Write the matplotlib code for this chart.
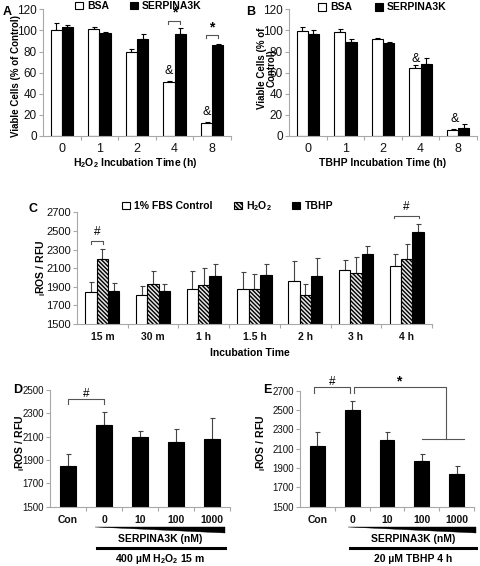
import matplotlib
matplotlib.use('Agg')
import matplotlib.pyplot as plt
import numpy as np
from matplotlib.patches import Patch, Polygon

plt.rcParams['font.family'] = ['Liberation Sans', 'DejaVu Sans']
plt.rcParams['mathtext.default'] = 'regular'
plt.rcParams['hatch.linewidth'] = 1.0

# ---------------- data ----------------
time_ab = ['0', '1', '2', '4', '8']
a_bsa = [100, 101.5, 79.5, 51, 12]
a_bsa_err = [7, 2, 3, 1.2, 1.3]
a_serp = [103.5, 98, 92, 97, 86]
a_serp_err = [1.2, 0.6, 4.3, 5, 1.5]

b_bsa = [99.5, 98.8, 91.9, 64.7, 5.7]
b_bsa_err = [3.5, 2.6, 0.6, 2.6, 1.2]
b_serp = [97, 89.4, 87.8, 67.9, 7.9]
b_serp_err = [3, 2.5, 1.2, 6.3, 3.5]

time_c = ['15 m', '30 m', '1 h', '1.5 h', '2 h', '3 h', '4 h']
c_ctrl = [1847, 1811, 1876, 1880, 1958, 2077, 2120]
c_ctrl_err = [100, 93, 193, 175, 215, 107, 132]
c_h2o2 = [2198, 1926, 1915, 1880, 1812, 2044, 2198]
c_h2o2_err = [103, 139, 182, 157, 118, 172, 158]
c_tbhp = [1858, 1851, 2015, 2023, 2016, 2256, 2485]
c_tbhp_err = [78, 82, 125, 118, 190, 82, 86]

dose_labels = ['Con', '0', '10', '100', '1000']
d_vals = [1849, 2200, 2097, 2051, 2077]
d_err = [102, 109, 49, 112, 180]
e_vals = [2131, 2503, 2193, 1972, 1841]
e_err = [138, 94, 76, 73, 76]

# ---------------- layout helpers ----------------
W, H = 481, 566
fig = plt.figure(figsize=(W / 100, H / 100), dpi=100)


def box(l, t, r, b):
    return [l / W, 1 - b / H, (r - l) / W, (b - t) / H]


def fx(x):
    return x / W


def fy(y):
    return 1 - y / H


GRAY = '#a8a8a8'
TXT = '#111111'
BRK = '#555555'
HATCH = '\\\\\\\\\\\\\\\\'


def style(ax, ylim, yticks, labels, xfs, xbold, xpad, yfs):
    n = len(labels)
    ax.set_xlim(-0.5, n - 0.5)
    ax.set_ylim(*ylim)
    ax.set_yticks(yticks)
    for s in ['top', 'right']:
        ax.spines[s].set_visible(False)
    for s in ['left', 'bottom']:
        ax.spines[s].set_color(GRAY)
        ax.spines[s].set_linewidth(0.8)
    ax.tick_params(axis='y', colors=GRAY, labelcolor=TXT, length=3,
                   width=0.8, labelsize=yfs, pad=1.5)
    ax.set_xticks(np.arange(n))
    ax.set_xticklabels(labels, fontsize=xfs,
                       fontweight='bold' if xbold else 'normal')
    ax.tick_params(axis='x', which='major', length=0, pad=xpad,
                   labelcolor=TXT)
    ax.set_xticks(np.arange(n) + 0.5, minor=True)
    ax.tick_params(axis='x', which='minor', length=3, color=GRAY, width=0.8)


def bars(ax, x, vals, errs, width, ecol='k', **kw):
    ax.errorbar(x, vals, yerr=[np.zeros(len(vals)), errs], fmt='none',
                ecolor=ecol, elinewidth=0.8, capsize=1.8, capthick=0.8,
                zorder=1)
    ax.bar(x, vals, width, edgecolor='k', linewidth=0.8, zorder=2, **kw)


def bracket(ax, x0, x1, ytop, ybot, clip=True):
    ax.plot([x0, x0, x1, x1], [ybot, ytop, ytop, ybot], color=BRK, lw=0.8,
            clip_on=clip, zorder=3)


# ---------------- Panel A ----------------
axA = fig.add_axes(box(43, 9.3, 231, 136))
x = np.arange(len(time_ab))
bars(axA, x - 0.15, a_bsa, a_bsa_err, 0.3, color='white')
bars(axA, x + 0.15, a_serp, a_serp_err, 0.3, color='black')
style(axA, (0, 120), np.arange(0, 121, 20), time_ab, 9, False, 5, 8.5)
bracket(axA, 3 - 0.17, 3 + 0.15, 109, 106)
axA.text(3, 110, '*', ha='center', va='bottom', fontsize=10, fontweight='bold')
bracket(axA, 4 - 0.17, 4 + 0.15, 95.7, 92.6)
axA.text(4, 96.5, '*', ha='center', va='bottom', fontsize=10, fontweight='bold')
axA.text(3 - 0.15, 62, '&', ha='center', va='center', fontsize=9)
axA.text(4 - 0.15, 23, '&', ha='center', va='center', fontsize=9)
axA.legend(handles=[Patch(facecolor='white', edgecolor='k', lw=0.8, label='BSA'),
                    Patch(facecolor='black', edgecolor='k', lw=0.8, label='SERPINA3K')],
           loc='center left', bbox_to_anchor=(0.17, 1.025), ncol=2,
           frameon=False, borderpad=0, borderaxespad=0, handlelength=0.75,
           handleheight=0.75, handletextpad=0.4, columnspacing=2.0,
           prop={'weight': 'bold', 'size': 7.5})
fig.text(fx(3), fy(12), 'A', fontsize=9, fontweight='bold', va='center')
fig.text(fx(16), fy(76), 'Viable Cells (% of Control)', rotation=90,
         fontsize=7, fontweight='bold', ha='center', va='center')
fig.text(fx(135), fy(163), 'H$_2$O$_2$ Incubation Time (h)', fontsize=7.5,
         fontweight='bold', ha='center', va='center')

# ---------------- Panel B ----------------
axB = fig.add_axes(box(289, 9.3, 477, 136))
bars(axB, x - 0.15, b_bsa, b_bsa_err, 0.3, color='white')
bars(axB, x + 0.15, b_serp, b_serp_err, 0.3, color='black')
style(axB, (0, 120), np.arange(0, 121, 20), time_ab, 9, False, 5, 8.5)
axB.text(3 - 0.13, 72.6, '&', ha='center', va='center', fontsize=9)
axB.text(4 - 0.1, 15.8, '&', ha='center', va='center', fontsize=9)
axB.legend(handles=[Patch(facecolor='white', edgecolor='k', lw=0.8, label='BSA'),
                    Patch(facecolor='black', edgecolor='k', lw=0.8, label='SERPINA3K')],
           loc='center left', bbox_to_anchor=(0.155, 1.015), ncol=2,
           frameon=False, borderpad=0, borderaxespad=0, handlelength=0.75,
           handleheight=0.75, handletextpad=0.4, columnspacing=2.2,
           prop={'weight': 'bold', 'size': 7.5})
fig.text(fx(246), fy(12), 'B', fontsize=9, fontweight='bold', va='center')
fig.text(fx(267), fy(68), 'Viable Cells (% of\nControl)', rotation=90,
         fontsize=7, fontweight='bold', ha='center', va='center',
         multialignment='center', linespacing=1.0)
fig.text(fx(383), fy(163), 'TBHP Incubation Time (h)', fontsize=7.5,
         fontweight='bold', ha='center', va='center')

# ---------------- Panel C ----------------
axC = fig.add_axes(box(77, 212.3, 432, 324))
xc = np.arange(len(time_c))
wc = 0.225
bars(axC, xc - wc, c_ctrl, c_ctrl_err, wc, ecol='#444444', color='white')
bars(axC, xc, c_h2o2, c_h2o2_err, wc, ecol='#444444', color='#e6e6e6',
     hatch=HATCH)
bars(axC, xc + wc, c_tbhp, c_tbhp_err, wc, ecol='#444444', color='black')
style(axC, (1500, 2700), np.arange(1500, 2701, 200), time_c, 7.5, True, 6, 8)
bracket(axC, -0.225, 0.02, 2391, 2360)
axC.text(-0.1, 2491, '#', ha='center', va='center', fontsize=8.5)
bracket(axC, 5.75, 6.24, 2664, 2635, clip=False)
axC.text(6.0, 2760, '#', ha='center', va='center', fontsize=8.5, clip_on=False)
axC.legend(handles=[Patch(facecolor='white', edgecolor='k', lw=0.8, label='1% FBS Control'),
                    Patch(facecolor='#e6e6e6', edgecolor='k', lw=0.8, hatch=HATCH,
                          label='H$_2$O$_2$'),
                    Patch(facecolor='black', edgecolor='k', lw=0.8, label='TBHP')],
           loc='center left', bbox_to_anchor=(0.128, 1.055), ncol=3,
           frameon=False, borderpad=0, borderaxespad=0, handlelength=0.75,
           handleheight=0.75, handletextpad=0.4, columnspacing=2.0,
           prop={'weight': 'bold', 'size': 7.5})
fig.text(fx(29), fy(209), 'C', fontsize=9, fontweight='bold', va='center')
fig.text(fx(41), fy(268), '${}_{i}$ROS / RFU', rotation=90, fontsize=7.5,
         fontweight='bold', ha='center', va='center')
fig.text(fx(250), fy(353), 'Incubation Time', fontsize=7.5,
         fontweight='bold', ha='center', va='center')

# ---------------- Panel D ----------------
axD = fig.add_axes(box(50, 390, 230, 506.7))
xd = np.arange(len(dose_labels))
bars(axD, xd, d_vals, d_err, 0.42, ecol='#444444', color='black')
style(axD, (1500, 2500), np.arange(1500, 2501, 200), dose_labels, 7.5, True, 6, 7)
bracket(axD, 0, 1, 2420, 2377)
axD.text(0.5, 2466, '#', ha='center', va='center', fontsize=8.5)
fig.text(fx(13), fy(390), 'D', fontsize=9, fontweight='bold', va='center')
fig.text(fx(20), fy(443), '${}_{i}$ROS / RFU', rotation=90, fontsize=7.5,
         fontweight='bold', ha='center', va='center')

# ---------------- Panel E ----------------
axE = fig.add_axes(box(300, 390.7, 474, 506.7))
bars(axE, xd, e_vals, e_err, 0.42, ecol='#444444', color='black')
style(axE, (1500, 2700), np.arange(1500, 2701, 200), dose_labels, 7.5, True, 6, 7)
bracket(axE, -0.09, 0.94, 2734, 2672, clip=False)
axE.text(0.43, 2793, '#', ha='center', va='center', fontsize=8.5, clip_on=False)
axE.plot([1.04, 1.04, 3.69, 3.69], [2672, 2734, 2734, 2197], color=BRK, lw=0.8,
         clip_on=False)
axE.plot([3.0, 4.2], [2197, 2197], color=BRK, lw=0.8, clip_on=False)
axE.text(2.33, 2793, '*', ha='center', va='center', fontsize=10,
         fontweight='bold', clip_on=False)
fig.text(fx(263), fy(390), 'E', fontsize=9, fontweight='bold', va='center')
fig.text(fx(261), fy(443), '${}_{i}$ROS / RFU', rotation=90, fontsize=7.5,
         fontweight='bold', ha='center', va='center')

# ---------------- dose annotations under D and E ----------------
for (x0, x1, xc_, label2) in [(95, 225, 160, '400 µM H$_2$O$_2$ 15 m'),
                              (348, 476, 413, '20 µM TBHP 4 h')]:
    wedge = Polygon([(fx(x0), fy(526.5)), (fx(x1), fy(526.5)),
                     (fx(x1), fy(532.5))], closed=True, facecolor='black',
                    edgecolor='black', lw=0.3, transform=fig.transFigure)
    fig.patches.append(wedge)
    fig.text(fx(xc_), fy(539.5), 'SERPINA3K (nM)', fontsize=7.5,
             fontweight='bold', ha='center', va='center')
    fig.add_artist(plt.Line2D([fx(x0 + 2), fx(x1)], [fy(547.7), fy(547.7)],
                              color='black', lw=2.2, transform=fig.transFigure))
    fig.text(fx(xc_), fy(558.5), label2, fontsize=7.5,
             fontweight='bold', ha='center', va='center')

fig.savefig('out.png', dpi=100)
